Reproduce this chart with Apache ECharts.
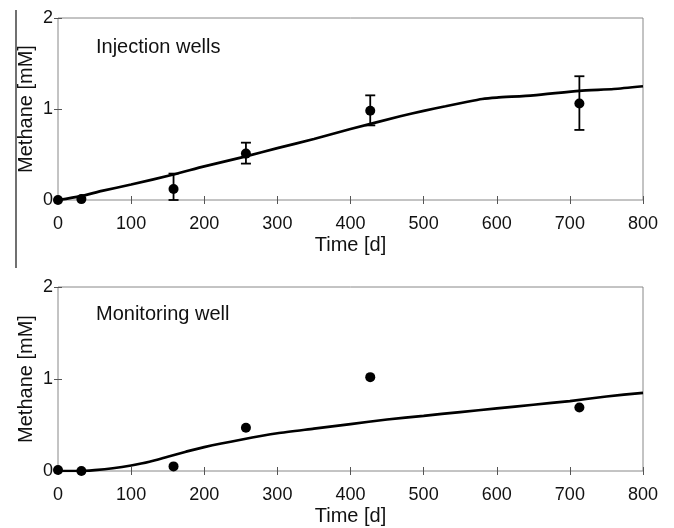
<!DOCTYPE html>
<html>
<head>
<meta charset="utf-8">
<script src="https://cdn.jsdelivr.net/npm/echarts@6/dist/echarts.min.js"></script>
<style>html,body{margin:0;padding:0;background:#fff;}#c{width:674px;height:528px;}</style>
</head>
<body>
<div id="c"></div>
<script>
// Observation times [d]
const obsDays = [0, 32, 158, 257, 427, 713];
// Injection wells: measured mean and error bar limits
const injMean = [0.00, 0.01, 0.12, 0.51, 0.98, 1.06];
const injLow  = [null, null, 0.00, 0.40, 0.82, 0.77];
const injHigh = [null, null, 0.29, 0.63, 1.15, 1.36];
// Monitoring well: measured values
const monMean = [0.01, 0.00, 0.05, 0.47, 1.02, 0.69];
// Model curves
const injModelDays = [0, 30, 60, 100, 158, 200, 257, 300, 350, 400, 468, 500, 530, 560, 580, 600, 650, 713, 760, 800];
const injModel     = [0, 0.04, 0.10, 0.17, 0.28, 0.37, 0.48, 0.57, 0.67, 0.78, 0.92, 0.98, 1.03, 1.08, 1.11, 1.125, 1.15, 1.20, 1.22, 1.25];
const monModelDays = [0, 30, 50, 75, 100, 125, 150, 175, 200, 250, 300, 350, 400, 450, 500, 550, 600, 650, 700, 750, 800];
const monModel     = [0, 0, 0.01, 0.03, 0.06, 0.10, 0.155, 0.21, 0.26, 0.34, 0.41, 0.46, 0.51, 0.56, 0.60, 0.64, 0.68, 0.72, 0.76, 0.81, 0.85];
// Axis settings / labels
const xMin = 0, xMax = 800, xStep = 100;
const yMin = 0, yMax = 2, yStep = 1;
const xTitle = 'Time [d]';
const yTitle = 'Methane [mM]';
const panelTitles = ['Injection wells', 'Monitoring well'];

const FONT = '"Liberation Sans", Arial, Helvetica, sans-serif';
const zip = (a, b) => a.map((v, i) => [v, b[i]]);

function xAxisMain(gi) {
  return {
    gridIndex: gi, type: 'value', position: 'bottom', min: xMin, max: xMax, interval: xStep,
    name: xTitle, nameLocation: 'middle', nameGap: 35, nameMoveOverlap: false,
    nameTextStyle: {fontFamily: FONT, fontSize: 20, color: '#111'},
    axisLine: {show: false},
    axisTick: {show: true, inside: true, length: 4, lineStyle: {color: '#555', width: 1}},
    axisLabel: {fontFamily: FONT, fontSize: 18, color: '#111', margin: 15},
    splitLine: {show: false}
  };
}
function xAxisMirror(gi) {
  return {
    gridIndex: gi, type: 'value', position: 'top', min: xMin, max: xMax, interval: xStep,
    axisLine: {show: false},
    axisTick: {show: true, inside: true, length: 4, lineStyle: {color: '#555', width: 1}},
    axisLabel: {show: false}, splitLine: {show: false}
  };
}
function yAxisMain(gi) {
  return {
    gridIndex: gi, type: 'value', position: 'left', min: yMin, max: yMax, interval: yStep,
    name: yTitle, nameLocation: 'middle', nameGap: 22, nameRotate: 90, nameMoveOverlap: false,
    nameTextStyle: {fontFamily: FONT, fontSize: 20, color: '#111'},
    axisLine: {show: false},
    axisTick: {show: true, inside: true, length: 4, lineStyle: {color: '#555', width: 1}},
    axisLabel: {fontFamily: FONT, fontSize: 18, color: '#111', margin: 5},
    splitLine: {show: false}
  };
}
function yAxisMirror(gi) {
  return {
    gridIndex: gi, type: 'value', position: 'right', min: yMin, max: yMax, interval: yStep,
    axisLine: {show: false},
    axisTick: {show: true, inside: true, length: 4, lineStyle: {color: '#555', width: 1}},
    axisLabel: {show: false}, splitLine: {show: false}
  };
}

function errRender(params, api) {
  const x = api.value(0), lo = api.value(1), hi = api.value(2);
  const pLo = api.coord([x, lo]), pHi = api.coord([x, hi]);
  const w = 5;
  const st = {stroke: '#000', lineWidth: 1.8};
  return {
    type: 'group',
    children: [
      {type: 'line', shape: {x1: pLo[0], y1: pLo[1], x2: pHi[0], y2: pHi[1]}, style: st},
      {type: 'line', shape: {x1: pHi[0] - w, y1: pHi[1], x2: pHi[0] + w, y2: pHi[1]}, style: st},
      {type: 'line', shape: {x1: pLo[0] - w, y1: pLo[1], x2: pLo[0] + w, y2: pLo[1]}, style: st}
    ]
  };
}

const errData = obsDays.map((d, i) => [d, injLow[i], injHigh[i]]).filter(r => r[1] !== null);

const chart = echarts.init(document.getElementById('c'), null, {renderer: 'canvas'});
chart.setOption({
  animation: false,
  backgroundColor: '#fff',
  title: [
    {text: panelTitles[0], left: 96, top: 37, padding: 0, textStyle: {fontFamily: FONT, fontSize: 20, fontWeight: 'normal', color: '#111'}},
    {text: panelTitles[1], left: 96, top: 304, padding: 0, textStyle: {fontFamily: FONT, fontSize: 20, fontWeight: 'normal', color: '#111'}}
  ],
  grid: [
    {left: 58, right: 31, top: 18, height: 182, show: true, borderColor: '#888', borderWidth: 1, backgroundColor: 'transparent'},
    {left: 58, right: 31, top: 287, height: 184, show: true, borderColor: '#888', borderWidth: 1, backgroundColor: 'transparent'}
  ],
  xAxis: [xAxisMain(0), xAxisMirror(0), xAxisMain(1), xAxisMirror(1)],
  yAxis: [yAxisMain(0), yAxisMirror(0), yAxisMain(1), yAxisMirror(1)],
  graphic: [
    {type: 'line', shape: {x1: 16, y1: 10, x2: 16, y2: 268}, style: {stroke: '#111', lineWidth: 1.2}, silent: true}
  ],
  series: [
    {type: 'line', xAxisIndex: 0, yAxisIndex: 0, data: zip(injModelDays, injModel), symbol: 'none', smooth: 0.2,
     lineStyle: {color: '#000', width: 2.7}, z: 2},
    {type: 'custom', xAxisIndex: 0, yAxisIndex: 0, data: errData, renderItem: errRender, encode: {x: 0, y: [1, 2]}, z: 3},
    {type: 'scatter', xAxisIndex: 0, yAxisIndex: 0, data: zip(obsDays, injMean), symbol: 'circle', symbolSize: 10,
     itemStyle: {color: '#000', opacity: 1}, z: 4},
    {type: 'line', xAxisIndex: 2, yAxisIndex: 2, data: zip(monModelDays, monModel), symbol: 'none', smooth: 0.2,
     lineStyle: {color: '#000', width: 2.7}, z: 2},
    {type: 'scatter', xAxisIndex: 2, yAxisIndex: 2, data: zip(obsDays, monMean), symbol: 'circle', symbolSize: 10,
     itemStyle: {color: '#000', opacity: 1}, z: 4}
  ]
});
</script>
</body>
</html>
